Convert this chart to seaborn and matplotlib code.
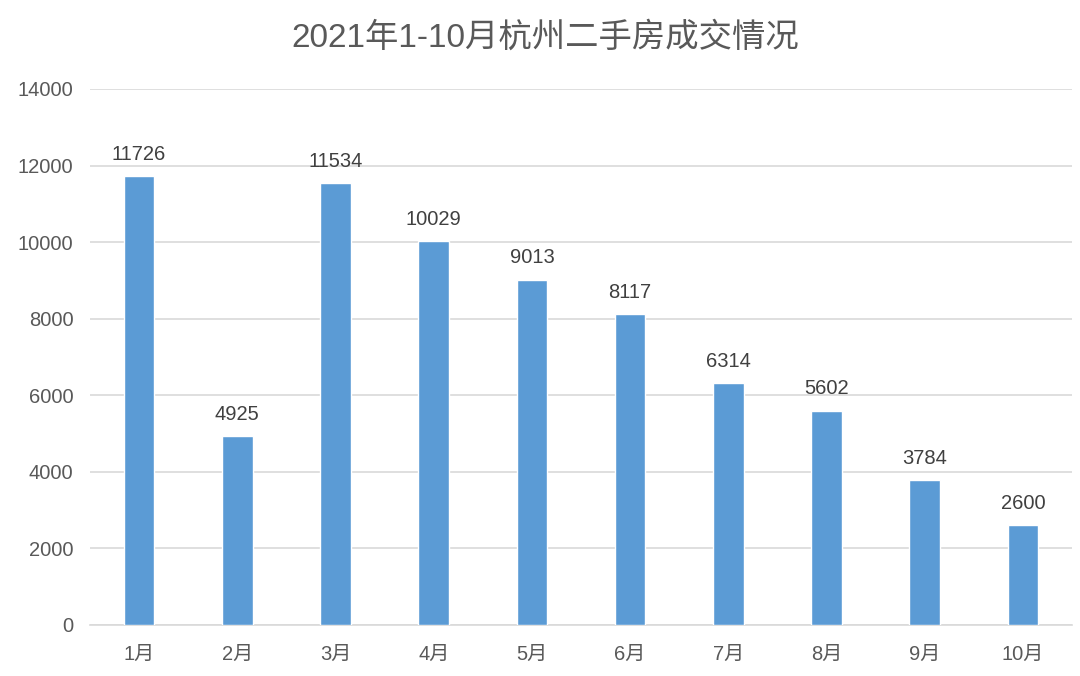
import matplotlib
matplotlib.use("Agg")
import matplotlib.pyplot as plt
import seaborn as sns
import pandas as pd

months = ["1月", "2月", "3月", "4月", "5月", "6月", "7月", "8月", "9月", "10月"]
volumes = [11726, 4925, 11534, 10029, 9013, 8117, 6314, 5602, 3784, 2600]
yticks = [0, 2000, 4000, 6000, 8000, 10000, 12000, 14000]
title = "2021年1-10月杭州二手房成交情况"

sns.set_theme(style="white")
plt.rcParams['font.family'] = ['Liberation Sans', 'Noto Sans CJK SC', 'DejaVu Sans']

df = pd.DataFrame({"month": months, "volume": volumes})

fig = plt.figure(figsize=(10.8, 6.76), dpi=100)
ax = fig.add_axes([90/1080, 51/676, 982/1080, 536/676])

sns.barplot(data=df, x="month", y="volume", color="#5B9BD5", width=0.31,
            saturation=1, ax=ax, zorder=3)

ax.set_ylim(0, 14000)
ax.set_xlim(-0.5, 9.5)
ax.set_yticks(yticks)
ax.yaxis.grid(True, color="#D9D9D9", linewidth=1.2, zorder=0)
ax.set_axisbelow(True)
for s in ["top", "right", "left"]:
    ax.spines[s].set_visible(False)
ax.spines["bottom"].set_color("#D9D9D9")
ax.spines["bottom"].set_linewidth(1.2)
ax.tick_params(axis="both", length=0, labelsize=14.5, colors="#595959")
ax.tick_params(axis="x", pad=14)
ax.tick_params(axis="y", pad=12)
ax.set_xlabel("")
ax.set_ylabel("")

for i, v in enumerate(volumes):
    ax.annotate(str(v), (i, v), xytext=(0, 9), textcoords="offset points",
                ha="center", va="bottom", fontsize=14.5, color="#404040")

fig.text(545/1080, 1 - 38/676, title, ha="center", va="center",
         fontsize=24, color="#595959")

fig.savefig("out.png", dpi=100)
